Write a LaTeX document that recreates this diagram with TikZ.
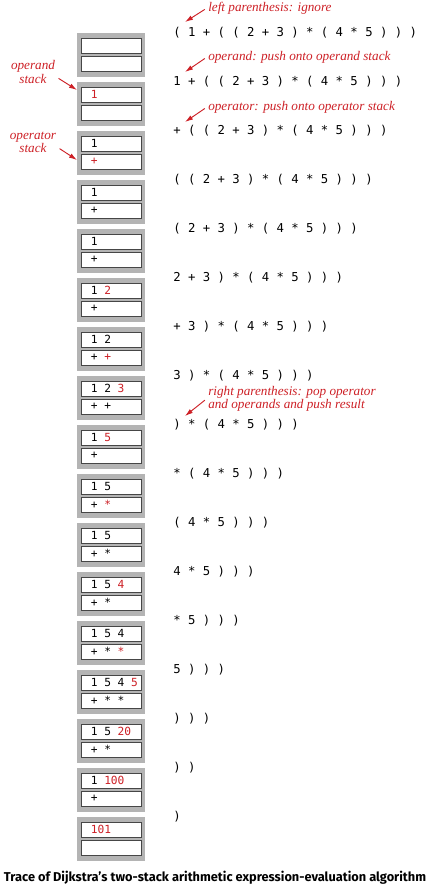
\documentclass[tikz,border=0pt]{standalone}
\usepackage{fontspec}
\usepackage{xcolor}
\usepackage{tikz}
\usetikzlibrary{arrows.meta}
\setsansfont{Fira Sans}
\newfontfamily\monofont{DejaVu Sans Mono}
\newfontfamily\notefont{Liberation Serif}
\definecolor{framegray}{RGB}{180,180,180}
\definecolor{cellline}{RGB}{70,70,70}
\definecolor{notered}{RGB}{205,32,38}
\newcommand{\fresh}[1]{\textcolor{notered}{#1}}
\tikzset{
  frame/.style={fill=framegray,draw=none},
  cell/.style={draw=cellline,fill=white,line width=0.6pt},
  expr/.style={anchor=west,inner sep=0.75pt,font=\monofont\fontsize{9.2}{11}\selectfont},
  stk/.style={anchor=west,inner sep=0.75pt,font=\monofont\fontsize{8.4}{10}\selectfont},
  note/.style={inner sep=0.75pt,text=notered,font=\notefont\itshape\fontsize{9.9}{8.4}\selectfont},
  pointer/.style={draw=notered,line width=0.7pt,shorten <=2pt,-{Latex[length=6pt,width=3.6pt]}}
}
\begin{document}
\begin{tikzpicture}[x=0.75pt,y=0.75pt,yscale=-1,xscale=1]
\useasboundingbox (0,0) rectangle (432,889);
% one row per step: operand stack, operator stack, rest of the input
\foreach \i/\opd/\opr/\ex in {
  0/{}/{}/{( 1 + ( ( 2 + 3 ) * ( 4 * 5 ) ) )},
  1/{\fresh{1}}/{}/{1 + ( ( 2 + 3 ) * ( 4 * 5 ) ) )},
  2/{1}/{\fresh{+}}/{+ ( ( 2 + 3 ) * ( 4 * 5 ) ) )},
  3/{1}/{+}/{( ( 2 + 3 ) * ( 4 * 5 ) ) )},
  4/{1}/{+}/{( 2 + 3 ) * ( 4 * 5 ) ) )},
  5/{1 \fresh{2}}/{+}/{2 + 3 ) * ( 4 * 5 ) ) )},
  6/{1 2}/{+ \fresh{+}}/{+ 3 ) * ( 4 * 5 ) ) )},
  7/{1 2 \fresh{3}}/{+ +}/{3 ) * ( 4 * 5 ) ) )},
  8/{1 \fresh{5}}/{+}/{) * ( 4 * 5 ) ) )},
  9/{1 5}/{+ \fresh{*}}/{* ( 4 * 5 ) ) )},
  10/{1 5}/{+ *}/{( 4 * 5 ) ) )},
  11/{1 5 \fresh{4}}/{+ *}/{4 * 5 ) ) )},
  12/{1 5 4}/{+ * \fresh{*}}/{* 5 ) ) )},
  13/{1 5 4 \fresh{5}}/{+ * *}/{5 ) ) )},
  14/{1 5 \fresh{20}}/{+ *}/{) ) )},
  15/{1 \fresh{100}}/{+}/{) )},
  16/{\fresh{101}}/{}/{)}}{
  \pgfmathsetmacro\y{33+49*\i}
  \draw[frame] (77,\y) rectangle (145,\y+44);
  \draw[cell] (81,\y+5) rectangle (141,\y+20);
  \draw[cell] (81,\y+23) rectangle (141,\y+38);
  \node[stk] (opd\i) at (89.5,\y+12.5) {\opd};
  \node[stk] (opr\i) at (89.5,\y+30.5) {\opr};
  \node[expr] (ex\i) at (172,\y) {\ex};
}
% notes on the left
\node[note,align=center] (opdnote) at (33,72) {operand\\stack};
\node[note,align=center] (oprnote) at (33,142) {operator\\stack};
\coordinate (opdtip) at (77,90);
\coordinate (oprtip) at (77,160);
\draw[pointer] (opdnote.-12) -- (opdtip);
\draw[pointer] (oprnote.-12) -- (oprtip);
% notes on the right
\node[note,anchor=west] (ignore) at (207,8) {left parenthesis: ignore};
\node[note,anchor=west] (pushopd) at (207,57) {operand: push onto operand stack};
\node[note,anchor=west] (pushopr) at (207,107) {operator: push onto operator stack};
\node[note,anchor=west,align=left] (popres) at (207,398.5) {right parenthesis: pop operator\\and operands and push result};
\coordinate (tip0) at (185,22);
\coordinate (tip1) at (185,72);
\coordinate (tip2) at (185,122);
\coordinate (tip3) at (185,416);
\draw[pointer] (ignore.west) -- (tip0);
\draw[pointer] (pushopd.west) -- (tip1);
\draw[pointer] (pushopr.west) -- (tip2);
\draw[pointer] (popres.west) -- (tip3);
% caption
\node[inner sep=0pt,font=\sffamily\bfseries\fontsize{9.6}{10}\selectfont] (caption) at (215,878) {Trace of Dijkstra’s two-stack arithmetic expression-evaluation algorithm};
\end{tikzpicture}
\end{document}
